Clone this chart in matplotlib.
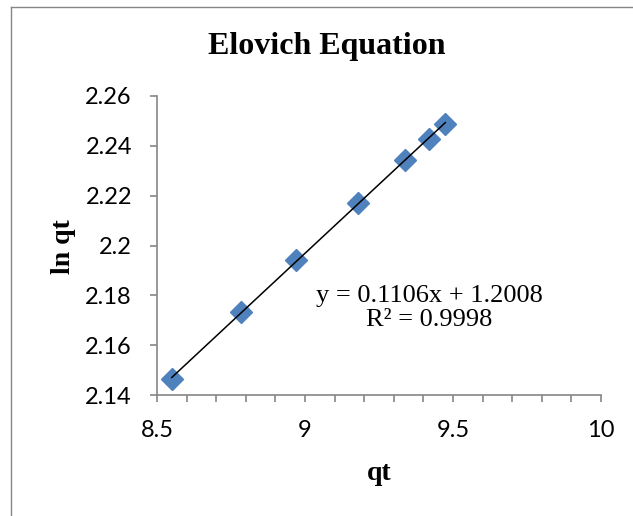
import matplotlib.pyplot as plt
import numpy as np
from matplotlib.lines import Line2D

# data
qt = [8.55, 8.785, 8.968, 9.179, 9.337, 9.418, 9.474]
ln_qt = [2.1463, 2.1732, 2.1942, 2.2172, 2.2343, 2.2427, 2.2488]
x_ticks = [8.5, 9, 9.5, 10]
y_ticks = [2.14, 2.16, 2.18, 2.2, 2.22, 2.24, 2.26]
y_labels = ['2.14', '2.16', '2.18', '2.2', '2.22', '2.24', '2.26']

W, H = 633, 516
fig = plt.figure(figsize=(W / 100, H / 100), dpi=100)
ax = fig.add_axes([157 / W, 1 - 395 / H, (601 - 157) / W, (395 - 96) / H])

# chart border (left and top edges visible)
fig.add_artist(Line2D([11 / W, 11 / W], [0, 1 - 7 / H], transform=fig.transFigure, color='#868686', lw=1))
fig.add_artist(Line2D([11 / W, 1], [1 - 7 / H, 1 - 7 / H], transform=fig.transFigure, color='#868686', lw=1))

ax.plot(qt, ln_qt, linestyle='none', marker='D', markersize=11.5,
        color='#4F81BD', markeredgecolor='#4F81BD', zorder=3)

# linear trendline
m, b = np.polyfit(qt, ln_qt, 1)
xs = np.array([min(qt), max(qt)])
ax.plot(xs, m * xs + b, color='black', lw=1.1, zorder=4)

ax.set_xlim(8.5, 10)
ax.set_ylim(2.14, 2.26)
ax.set_xticks(x_ticks)
ax.set_xticklabels([str(v) for v in x_ticks])
ax.set_xticks(np.arange(8.5, 10.01, 0.1), minor=True)
ax.set_yticks(y_ticks)
ax.set_yticklabels(y_labels)

for s in ['top', 'right']:
    ax.spines[s].set_visible(False)
for s in ['left', 'bottom']:
    ax.spines[s].set_color('#868686')
    ax.spines[s].set_linewidth(1.2)

ax.tick_params(axis='both', which='both', direction='out', length=5,
               color='#868686', width=1.2)
ax.tick_params(axis='x', which='major', pad=13)
ax.tick_params(axis='y', which='major', pad=13)
for lab in ax.get_xticklabels() + ax.get_yticklabels():
    lab.set_fontfamily('Lato')
    lab.set_fontsize(17)

fig.text(327 / W, 1 - 47 / H, 'Elovich Equation', ha='center', va='center',
         family='Liberation Serif', fontweight='bold', fontsize=23)
fig.text(63 / W, 1 - 247 / H, 'ln qt', ha='center', va='center', rotation=90,
         family='Liberation Serif', fontweight='bold', fontsize=20)
fig.text(379 / W, 1 - 473 / H, 'qt', ha='center', va='center',
         family='Liberation Serif', fontweight='bold', fontsize=20)
fig.text(429 / W, 1 - 308 / H, 'y = 0.1106x + 1.2008\nR² = 0.9998', ha='center',
         va='center', family='Liberation Serif', fontsize=19, linespacing=1.1)

fig.savefig('out.png', dpi=100)
